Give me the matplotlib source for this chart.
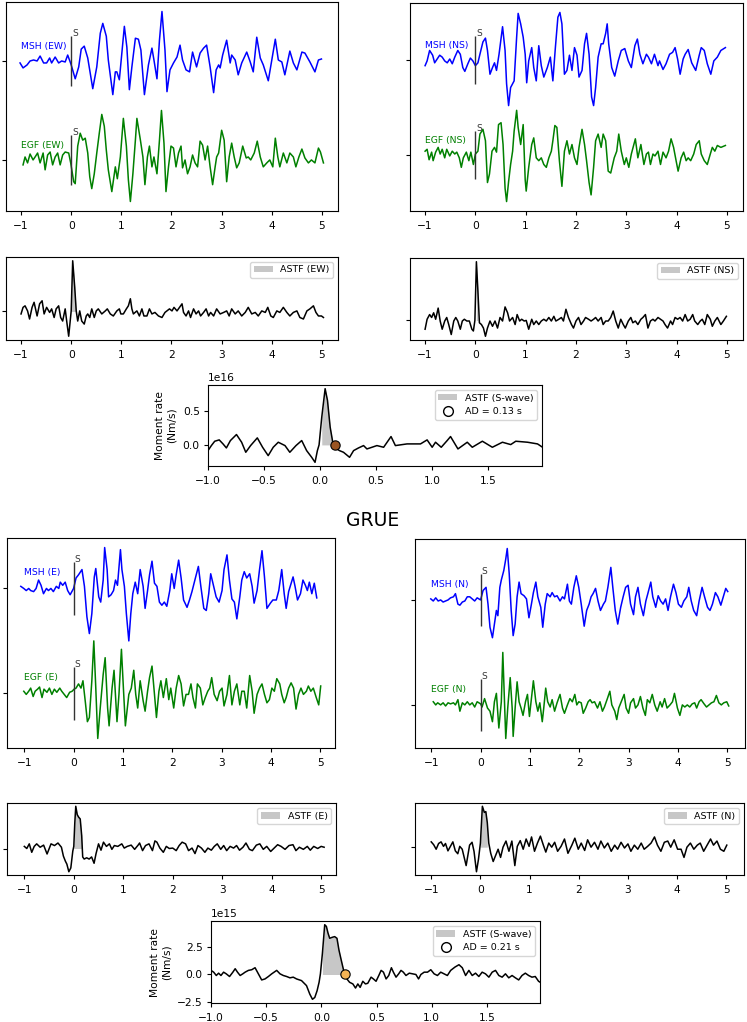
import numpy as np
import matplotlib
matplotlib.use('Agg')
import matplotlib.pyplot as plt
from matplotlib.lines import Line2D

# 波形数据 (时间 s, 归一化振幅)
msh_ew = np.array([
    (-1.02, -0.02), (-0.96, -0.07), (-0.88, -0.04), (-0.82, 0.0), (-0.75, 0.01), (-0.68, 0.0), (-0.62, 0.05),
    (-0.55, -0.02), (-0.49, -0.02), (-0.43, 0.03), (-0.39, -0.02), (-0.32, 0.04), (-0.25, -0.02), (-0.19, 0.0),
    (-0.12, -0.01), (-0.07, 0.06), (-0.02, -0.01), (0.0, -0.04), (0.08, -0.18), (0.15, -0.06), (0.20, 0.12),
    (0.26, 0.15), (0.33, 0.03), (0.43, -0.28), (0.51, -0.06), (0.58, 0.28), (0.63, 0.38), (0.70, 0.25),
    (0.74, 0.01), (0.83, -0.34), (0.88, -0.11), (0.91, -0.11), (0.96, -0.19), (1.06, 0.35), (1.11, 0.14),
    (1.16, -0.29), (1.21, -0.06), (1.28, 0.23), (1.34, 0.22), (1.39, 0.11), (1.46, -0.34), (1.54, -0.04),
    (1.61, 0.13), (1.65, 0.01), (1.71, -0.18), (1.76, 0.21), (1.81, 0.50), (1.87, 0.11), (1.91, -0.31),
    (1.97, -0.09), (2.04, -0.02), (2.11, 0.04), (2.17, 0.16), (2.22, 0.01), (2.29, -0.09), (2.36, -0.11),
    (2.42, 0.09), (2.50, -0.06), (2.57, 0.08), (2.64, 0.13), (2.70, 0.16), (2.77, -0.06), (2.84, -0.32),
    (2.89, -0.09), (2.94, -0.04), (2.97, -0.07), (3.02, 0.06), (3.10, 0.21), (3.17, -0.02), (3.20, 0.06),
    (3.27, 0.01), (3.33, -0.14), (3.40, -0.02), (3.50, 0.09), (3.57, -0.01), (3.63, -0.11), (3.70, 0.24),
    (3.77, 0.03), (3.83, -0.04), (3.93, -0.20), (4.00, 0.01), (4.07, 0.22), (4.13, 0.01), (4.20, -0.01),
    (4.26, -0.14), (4.36, 0.10), (4.43, -0.02), (4.50, -0.09), (4.60, 0.09), (4.66, 0.08), (4.76, -0.01),
    (4.86, -0.11), (4.93, 0.01), (4.99, 0.02)])

egf_ew = np.array([
    (-0.96, -0.05), (-0.92, 0.03), (-0.87, -0.03), (-0.82, 0.06), (-0.76, 0.0), (-0.72, 0.03), (-0.67, 0.07),
    (-0.62, -0.03), (-0.56, 0.07), (-0.52, -0.10), (-0.47, 0.05), (-0.42, 0.08), (-0.37, -0.05), (-0.32, 0.03),
    (-0.27, 0.07), (-0.22, -0.05), (-0.17, 0.05), (-0.12, 0.08), (-0.05, 0.07), (-0.01, -0.03), (0.05, -0.22),
    (0.08, -0.24), (0.13, 0.14), (0.18, 0.27), (0.23, 0.20), (0.28, 0.22), (0.33, 0.07), (0.37, -0.17),
    (0.41, -0.29), (0.46, -0.14), (0.51, 0.07), (0.56, 0.27), (0.61, 0.46), (0.66, 0.34), (0.70, 0.10),
    (0.74, -0.10), (0.81, -0.32), (0.88, -0.07), (0.92, -0.19), (0.98, 0.03), (1.04, 0.42), (1.10, 0.14),
    (1.14, -0.20), (1.18, -0.42), (1.23, -0.14), (1.28, 0.20), (1.31, 0.42), (1.38, 0.20), (1.43, 0.03),
    (1.47, -0.25), (1.52, 0.03), (1.56, 0.14), (1.61, -0.07), (1.65, 0.03), (1.71, -0.14), (1.76, 0.20),
    (1.80, 0.50), (1.85, 0.17), (1.89, -0.32), (1.94, -0.07), (1.99, 0.14), (2.04, 0.12), (2.09, -0.07),
    (2.14, 0.07), (2.19, 0.14), (2.22, -0.08), (2.27, 0.0), (2.32, -0.14), (2.37, -0.07), (2.42, 0.05),
    (2.47, -0.03), (2.52, -0.07), (2.57, 0.19), (2.62, 0.15), (2.67, 0.0), (2.72, 0.14), (2.77, -0.07),
    (2.82, -0.25), (2.87, -0.07), (2.90, 0.03), (2.94, 0.07), (3.00, 0.30), (3.05, 0.20), (3.10, -0.22),
    (3.15, 0.03), (3.20, 0.17), (3.25, 0.03), (3.30, -0.08), (3.35, -0.03), (3.42, 0.14), (3.49, 0.02),
    (3.53, 0.03), (3.58, 0.0), (3.65, 0.07), (3.71, 0.19), (3.77, 0.03), (3.83, -0.07), (3.90, -0.03),
    (3.96, 0.0), (4.02, -0.07), (4.07, 0.22), (4.12, 0.03), (4.16, -0.07), (4.23, 0.07), (4.30, -0.03),
    (4.36, 0.07), (4.43, 0.03), (4.48, -0.07), (4.54, 0.03), (4.60, 0.11), (4.66, 0.02), (4.73, -0.03),
    (4.79, 0.0), (4.86, -0.03), (4.93, 0.12), (4.97, 0.08), (5.03, -0.03)])

msh_ns = np.array([
    (-1.00, -0.06), (-0.96, -0.01), (-0.91, 0.10), (-0.85, 0.05), (-0.81, -0.03), (-0.76, 0.01), (-0.71, 0.05),
    (-0.66, 0.03), (-0.61, -0.01), (-0.56, -0.03), (-0.51, 0.01), (-0.46, -0.04), (-0.41, 0.03), (-0.35, 0.10),
    (-0.30, 0.06), (-0.25, -0.08), (-0.21, -0.12), (-0.15, -0.04), (-0.10, 0.02), (-0.05, -0.01), (0.0, -0.06),
    (0.05, -0.03), (0.09, 0.06), (0.15, 0.19), (0.20, 0.23), (0.24, 0.10), (0.29, -0.15), (0.34, -0.08),
    (0.38, -0.03), (0.42, -0.11), (0.47, 0.06), (0.54, 0.35), (0.59, 0.10), (0.62, -0.25), (0.66, -0.48),
    (0.70, -0.29), (0.77, -0.22), (0.82, 0.24), (0.85, 0.49), (0.90, 0.38), (0.95, 0.24), (0.99, 0.06),
    (1.02, -0.24), (1.06, -0.01), (1.12, 0.13), (1.16, -0.08), (1.21, -0.22), (1.26, 0.15), (1.31, -0.06),
    (1.36, -0.18), (1.43, -0.08), (1.49, 0.03), (1.54, -0.22), (1.59, 0.13), (1.64, 0.45), (1.68, 0.50),
    (1.72, 0.38), (1.77, -0.15), (1.82, -0.11), (1.87, 0.05), (1.92, -0.11), (1.97, 0.13), (2.02, 0.05),
    (2.06, -0.18), (2.12, -0.11), (2.17, 0.17), (2.21, 0.28), (2.26, 0.06), (2.31, -0.39), (2.35, -0.48),
    (2.39, -0.29), (2.44, 0.03), (2.50, 0.17), (2.54, 0.17), (2.59, 0.28), (2.62, 0.38), (2.65, 0.17),
    (2.71, -0.08), (2.77, -0.17), (2.84, -0.01), (2.90, 0.10), (2.97, 0.12), (3.04, -0.01), (3.10, -0.08),
    (3.17, 0.15), (3.22, 0.22), (3.27, 0.06), (3.33, -0.04), (3.40, 0.06), (3.44, 0.03), (3.50, -0.04),
    (3.56, 0.06), (3.63, -0.06), (3.66, -0.01), (3.73, -0.10), (3.79, -0.04), (3.86, 0.06), (3.92, 0.08),
    (3.97, 0.13), (4.02, 0.01), (4.07, -0.15), (4.13, 0.01), (4.17, 0.06), (4.23, 0.11), (4.30, -0.03),
    (4.38, -0.11), (4.45, 0.05), (4.49, 0.13), (4.55, 0.10), (4.61, -0.04), (4.68, -0.15), (4.74, -0.01),
    (4.81, 0.03), (4.88, 0.10), (4.97, 0.13)])

egf_ns = np.array([
    (-1.00, 0.04), (-0.96, 0.06), (-0.92, -0.05), (-0.87, 0.03), (-0.84, -0.06), (-0.79, 0.03), (-0.74, 0.08),
    (-0.70, 0.01), (-0.66, 0.06), (-0.61, -0.03), (-0.57, 0.06), (-0.51, -0.01), (-0.46, 0.04), (-0.41, 0.01),
    (-0.37, 0.03), (-0.32, -0.03), (-0.28, -0.13), (-0.24, -0.03), (-0.18, 0.03), (-0.13, -0.06), (-0.09, 0.03),
    (-0.04, -0.10), (0.0, 0.01), (0.05, 0.04), (0.09, 0.22), (0.15, 0.27), (0.20, 0.15), (0.24, -0.29),
    (0.28, -0.20), (0.33, 0.04), (0.38, 0.08), (0.42, 0.03), (0.46, 0.32), (0.51, 0.34), (0.55, 0.11),
    (0.59, -0.35), (0.62, -0.49), (0.66, -0.28), (0.70, -0.10), (0.74, 0.04), (0.77, 0.25), (0.82, 0.47),
    (0.85, 0.29), (0.90, 0.11), (0.95, 0.32), (0.99, -0.26), (1.01, -0.38), (1.06, -0.13), (1.12, 0.11),
    (1.16, 0.18), (1.21, -0.03), (1.26, -0.06), (1.31, -0.03), (1.36, -0.10), (1.41, -0.13), (1.46, -0.03),
    (1.51, 0.04), (1.54, 0.15), (1.58, 0.31), (1.62, 0.29), (1.67, -0.06), (1.72, -0.33), (1.77, 0.04),
    (1.82, 0.15), (1.87, 0.01), (1.92, 0.11), (1.97, -0.03), (2.02, -0.10), (2.06, 0.08), (2.12, 0.27),
    (2.17, 0.11), (2.21, -0.06), (2.26, -0.29), (2.30, -0.42), (2.35, -0.13), (2.39, 0.15), (2.44, 0.22),
    (2.50, 0.08), (2.54, 0.22), (2.59, 0.15), (2.64, -0.17), (2.69, -0.19), (2.76, -0.03), (2.81, 0.04),
    (2.85, 0.22), (2.90, 0.04), (2.96, -0.10), (3.00, -0.03), (3.05, -0.13), (3.10, 0.01), (3.18, 0.17),
    (3.23, -0.03), (3.29, 0.11), (3.35, -0.10), (3.40, 0.01), (3.44, 0.03), (3.48, -0.10), (3.53, 0.01),
    (3.57, -0.01), (3.63, 0.04), (3.68, -0.10), (3.73, 0.03), (3.79, -0.03), (3.84, 0.04), (3.89, 0.17),
    (3.94, 0.08), (3.99, -0.06), (4.03, -0.17), (4.09, -0.03), (4.14, 0.03), (4.19, -0.06), (4.23, -0.03),
    (4.28, -0.06), (4.34, 0.01), (4.39, 0.11), (4.45, 0.15), (4.49, 0.01), (4.55, -0.06), (4.61, -0.10),
    (4.67, 0.01), (4.71, 0.08), (4.76, 0.04), (4.81, 0.10), (4.88, 0.08), (4.97, 0.10)])

# 视震源时间函数 (ASTF, 峰值归一化)
astf_ew = np.array([
    (-1.00, -0.05), (-0.96, 0.08), (-0.92, 0.11), (-0.87, 0.01), (-0.83, -0.15), (-0.78, 0.08), (-0.74, 0.18),
    (-0.68, -0.09), (-0.63, 0.15), (-0.58, 0.21), (-0.54, -0.05), (-0.49, 0.08), (-0.43, -0.02), (-0.39, 0.05),
    (-0.34, -0.12), (-0.30, 0.05), (-0.25, 0.11), (-0.21, -0.12), (-0.17, -0.19), (-0.12, 0.05), (-0.09, -0.19),
    (-0.05, -0.49), (-0.02, -0.19), (0.0, 0.01), (0.03, 1.0), (0.07, 0.48), (0.10, 0.01), (0.13, -0.19),
    (0.17, 0.01), (0.21, -0.19), (0.26, -0.25), (0.30, -0.09), (0.33, -0.05), (0.37, -0.12), (0.41, 0.05),
    (0.46, -0.12), (0.50, 0.01), (0.54, 0.05), (0.61, -0.05), (0.68, 0.01), (0.72, 0.05), (0.78, -0.05),
    (0.84, -0.09), (0.91, 0.01), (0.96, 0.05), (0.99, -0.05), (1.04, -0.05), (1.10, 0.05), (1.14, 0.11),
    (1.18, 0.25), (1.21, 0.05), (1.24, -0.05), (1.31, 0.01), (1.36, -0.09), (1.41, 0.05), (1.45, -0.09),
    (1.51, -0.09), (1.56, 0.05), (1.61, -0.05), (1.67, -0.02), (1.74, -0.09), (1.81, -0.12), (1.87, -0.02),
    (1.96, 0.05), (2.01, 0.01), (2.05, 0.08), (2.11, 0.01), (2.16, 0.08), (2.21, 0.15), (2.24, -0.02),
    (2.29, -0.09), (2.34, 0.01), (2.38, -0.12), (2.44, 0.05), (2.49, -0.05), (2.54, 0.01), (2.58, -0.09),
    (2.64, -0.02), (2.69, 0.05), (2.74, -0.09), (2.78, -0.02), (2.84, -0.09), (2.90, 0.05), (2.97, -0.05),
    (3.04, -0.02), (3.10, 0.01), (3.15, -0.09), (3.20, 0.05), (3.27, -0.05), (3.33, 0.01), (3.40, -0.09),
    (3.47, -0.02), (3.53, 0.08), (3.60, -0.05), (3.67, -0.02), (3.73, -0.09), (3.80, 0.01), (3.87, -0.02),
    (3.92, 0.08), (3.98, -0.09), (4.03, -0.12), (4.10, 0.01), (4.16, -0.02), (4.23, 0.08), (4.30, -0.02),
    (4.36, -0.09), (4.43, -0.02), (4.50, 0.01), (4.56, -0.12), (4.63, -0.15), (4.70, 0.01), (4.76, 0.05),
    (4.83, 0.11), (4.88, -0.02), (4.93, -0.09), (4.99, -0.09), (5.03, -0.12)])

astf_ns = np.array([
    (-1.00, -0.15), (-0.96, 0.02), (-0.91, 0.10), (-0.87, 0.05), (-0.83, 0.13), (-0.79, 0.02), (-0.74, 0.21),
    (-0.70, -0.01), (-0.66, -0.15), (-0.61, -0.01), (-0.57, 0.05), (-0.53, -0.07), (-0.48, -0.24), (-0.43, -0.01),
    (-0.39, 0.05), (-0.35, -0.01), (-0.30, -0.15), (-0.26, -0.01), (-0.22, 0.02), (-0.17, -0.01), (-0.12, -0.01),
    (-0.07, -0.15), (-0.04, -0.18), (-0.01, 0.0), (0.02, 1.0), (0.05, 0.5), (0.08, -0.04), (0.12, -0.07),
    (0.16, -0.13), (0.20, -0.27), (0.24, -0.13), (0.29, -0.01), (0.34, -0.10), (0.39, -0.01), (0.44, -0.13),
    (0.49, 0.05), (0.54, -0.01), (0.59, 0.23), (0.64, 0.13), (0.68, -0.01), (0.74, 0.05), (0.79, -0.07),
    (0.83, 0.10), (0.88, -0.01), (0.92, 0.02), (0.97, -0.01), (1.01, 0.0), (1.06, -0.15), (1.12, 0.02),
    (1.16, -0.07), (1.21, -0.01), (1.26, -0.07), (1.31, -0.01), (1.36, 0.02), (1.41, -0.01), (1.46, 0.05),
    (1.51, -0.01), (1.56, 0.07), (1.60, -0.01), (1.66, 0.02), (1.71, 0.05), (1.75, -0.01), (1.80, 0.19),
    (1.85, 0.05), (1.91, -0.07), (1.95, -0.13), (2.00, -0.01), (2.05, 0.05), (2.10, -0.07), (2.15, -0.01),
    (2.19, 0.05), (2.25, 0.02), (2.30, -0.01), (2.35, 0.02), (2.39, 0.05), (2.44, -0.01), (2.50, 0.05),
    (2.54, -0.07), (2.59, -0.01), (2.64, -0.01), (2.69, 0.05), (2.74, 0.16), (2.79, -0.01), (2.84, -0.13),
    (2.89, 0.02), (2.94, -0.07), (2.98, -0.13), (3.04, -0.01), (3.09, 0.05), (3.13, -0.04), (3.18, -0.01),
    (3.23, -0.07), (3.29, 0.02), (3.33, 0.05), (3.38, 0.10), (3.43, -0.13), (3.48, -0.01), (3.53, 0.02),
    (3.57, -0.01), (3.63, 0.05), (3.68, 0.02), (3.73, -0.01), (3.77, -0.07), (3.82, -0.13), (3.88, -0.01),
    (3.92, -0.07), (3.97, 0.05), (4.02, 0.02), (4.07, 0.05), (4.12, -0.01), (4.17, 0.10), (4.22, -0.01),
    (4.27, 0.02), (4.32, 0.10), (4.36, -0.01), (4.42, -0.07), (4.47, -0.01), (4.51, 0.02), (4.56, -0.07),
    (4.61, 0.10), (4.67, 0.02), (4.71, -0.10), (4.76, -0.01), (4.81, 0.05), (4.88, -0.07), (4.93, -0.01),
    (4.99, 0.07)])

# 矩率函数 (单位 1e16 Nm/s)
mr_top = np.array([
    (-1.0, -0.085), (-0.97, -0.01), (-0.94, 0.055), (-0.90, 0.075), (-0.866, 0.015), (-0.836, -0.045),
    (-0.80, 0.065), (-0.746, 0.155), (-0.70, 0.04), (-0.663, -0.11), (-0.62, -0.01), (-0.56, 0.105),
    (-0.513, -0.035), (-0.463, -0.16), (-0.418, -0.035), (-0.373, 0.04), (-0.313, -0.01), (-0.27, -0.11),
    (-0.215, -0.01), (-0.164, 0.065), (-0.12, -0.085), (-0.075, -0.185), (-0.045, -0.26), (-0.024, -0.085),
    (-0.009, 0.0), (0.015, 0.415), (0.045, 0.84), (0.066, 0.665), (0.09, 0.265), (0.113, 0.04), (0.13, 0.0),
    (0.149, -0.06), (0.173, -0.085), (0.209, -0.11), (0.263, -0.185), (0.299, -0.085), (0.343, -0.045),
    (0.388, -0.01), (0.418, -0.06), (0.463, -0.035), (0.507, -0.01), (0.567, -0.035), (0.633, 0.125),
    (0.672, -0.01), (0.776, 0.015), (0.896, 0.015), (0.955, 0.075), (1.0, -0.035), (1.03, 0.04),
    (1.081, -0.035), (1.134, 0.065), (1.164, 0.125), (1.23, -0.06), (1.313, 0.04), (1.358, -0.035),
    (1.448, 0.055), (1.537, -0.035), (1.627, 0.04), (1.701, 0.005), (1.746, 0.055), (1.851, 0.04),
    (1.94, 0.015), (1.985, -0.035)])

msh_e = np.array([
    (-1.07, 0.02), (-1.01, 0.0), (-0.96, -0.02), (-0.91, 0.0), (-0.87, -0.02), (-0.81, -0.03), (-0.76, 0.0),
    (-0.71, 0.08), (-0.66, 0.03), (-0.61, -0.05), (-0.55, 0.0), (-0.51, -0.02), (-0.46, 0.0), (-0.41, -0.03),
    (-0.35, 0.02), (-0.30, 0.0), (-0.27, 0.06), (-0.22, 0.03), (-0.17, 0.06), (-0.12, -0.02), (-0.07, -0.06),
    (0.0, 0.0), (0.05, 0.10), (0.10, 0.13), (0.17, 0.18), (0.22, 0.02), (0.27, -0.27), (0.32, -0.43),
    (0.37, -0.24), (0.42, 0.11), (0.45, 0.19), (0.51, -0.08), (0.55, -0.13), (0.60, 0.08), (0.63, 0.39),
    (0.68, 0.18), (0.71, -0.08), (0.76, -0.06), (0.81, -0.02), (0.85, 0.08), (0.89, 0.03), (0.95, 0.37),
    (0.98, 0.18), (1.03, 0.02), (1.07, -0.24), (1.12, -0.50), (1.16, -0.24), (1.20, -0.05), (1.25, 0.06),
    (1.30, -0.05), (1.35, 0.18), (1.41, 0.02), (1.45, -0.19), (1.50, -0.02), (1.54, 0.13), (1.59, 0.26),
    (1.64, 0.05), (1.69, 0.02), (1.74, -0.13), (1.79, -0.16), (1.84, -0.13), (1.89, -0.17), (1.95, -0.02),
    (1.99, 0.14), (2.04, 0.0), (2.08, 0.13), (2.13, 0.27), (2.18, 0.10), (2.23, -0.11), (2.30, -0.18),
    (2.35, -0.11), (2.40, -0.03), (2.47, 0.10), (2.53, 0.21), (2.58, 0.02), (2.64, -0.19), (2.69, -0.21),
    (2.74, -0.05), (2.78, 0.14), (2.84, 0.02), (2.89, -0.08), (2.95, -0.13), (3.01, -0.02), (3.05, 0.18),
    (3.11, 0.32), (3.16, 0.08), (3.21, -0.10), (3.26, -0.13), (3.31, -0.29), (3.37, -0.08), (3.41, 0.08),
    (3.46, 0.16), (3.51, 0.10), (3.57, 0.14), (3.62, 0.02), (3.66, -0.14), (3.72, -0.02), (3.77, 0.18),
    (3.82, 0.36), (3.87, 0.11), (3.92, -0.19), (3.99, -0.14), (4.04, -0.11), (4.11, -0.11), (4.16, -0.02),
    (4.22, 0.18), (4.27, -0.05), (4.31, -0.19), (4.36, -0.03), (4.45, 0.11), (4.49, 0.02), (4.54, -0.11),
    (4.60, -0.05), (4.65, 0.08), (4.70, 0.03), (4.74, -0.02), (4.78, 0.06), (4.83, -0.05), (4.88, 0.05),
    (4.93, -0.09)])

egf_e = np.array([
    (-1.01, 0.02), (-0.96, -0.01), (-0.91, 0.02), (-0.87, 0.05), (-0.82, -0.03), (-0.78, 0.02), (-0.73, 0.04),
    (-0.69, 0.06), (-0.64, -0.04), (-0.60, 0.04), (-0.54, 0.01), (-0.49, 0.05), (-0.44, -0.01), (-0.39, 0.04),
    (-0.34, 0.01), (-0.28, 0.05), (-0.24, 0.02), (-0.19, -0.01), (-0.14, -0.04), (-0.08, 0.01), (-0.03, 0.02),
    (0.01, 0.04), (0.05, 0.05), (0.10, 0.09), (0.15, 0.05), (0.19, 0.12), (0.24, -0.09), (0.28, -0.27),
    (0.32, -0.23), (0.37, 0.12), (0.41, 0.50), (0.45, 0.05), (0.49, -0.43), (0.54, -0.14), (0.60, 0.18),
    (0.64, 0.34), (0.69, -0.14), (0.72, -0.31), (0.78, 0.05), (0.82, 0.22), (0.88, -0.27), (0.92, -0.01),
    (0.97, 0.42), (1.01, 0.05), (1.05, -0.31), (1.12, -0.01), (1.17, 0.05), (1.22, 0.22), (1.26, -0.01),
    (1.30, -0.14), (1.35, 0.12), (1.41, -0.07), (1.45, -0.17), (1.50, 0.02), (1.54, 0.15), (1.59, 0.26),
    (1.64, -0.01), (1.68, -0.23), (1.73, 0.02), (1.77, 0.12), (1.82, -0.04), (1.88, 0.14), (1.93, -0.06),
    (1.97, 0.05), (2.03, -0.14), (2.08, 0.05), (2.13, 0.17), (2.18, 0.09), (2.23, -0.12), (2.28, -0.01),
    (2.33, -0.01), (2.38, 0.09), (2.42, -0.04), (2.47, -0.14), (2.51, 0.09), (2.57, 0.05), (2.62, -0.11),
    (2.67, -0.04), (2.72, 0.02), (2.76, 0.05), (2.80, 0.15), (2.85, -0.01), (2.91, -0.07), (2.96, 0.02),
    (3.01, 0.05), (3.05, -0.12), (3.11, -0.01), (3.16, 0.17), (3.21, -0.11), (3.26, 0.02), (3.31, 0.09),
    (3.37, -0.11), (3.41, 0.02), (3.46, 0.02), (3.51, -0.14), (3.57, 0.17), (3.62, 0.02), (3.66, -0.19),
    (3.72, -0.01), (3.77, 0.05), (3.82, 0.09), (3.87, -0.01), (3.92, -0.09), (3.97, -0.06), (4.02, 0.05),
    (4.07, 0.02), (4.12, 0.14), (4.18, 0.09), (4.22, -0.01), (4.27, -0.09), (4.31, -0.04), (4.36, 0.05),
    (4.41, 0.10), (4.46, 0.05), (4.51, -0.15), (4.56, -0.01), (4.61, 0.05), (4.66, -0.01), (4.72, 0.02),
    (4.76, 0.07), (4.81, 0.02), (4.86, 0.05), (4.92, -0.04), (4.97, -0.11), (5.01, 0.07)])

msh_n = np.array([
    (-1.01, 0.01), (-0.96, -0.01), (-0.91, 0.02), (-0.86, -0.01), (-0.81, 0.0), (-0.76, -0.02), (-0.71, -0.01),
    (-0.66, 0.0), (-0.61, 0.02), (-0.55, 0.03), (-0.51, 0.06), (-0.46, -0.04), (-0.42, -0.05), (-0.37, -0.02),
    (-0.32, -0.01), (-0.27, 0.03), (-0.22, 0.03), (-0.17, 0.01), (-0.12, -0.01), (-0.07, 0.02), (0.0, 0.0),
    (0.05, 0.09), (0.11, 0.12), (0.15, -0.04), (0.19, -0.26), (0.24, -0.36), (0.28, -0.23), (0.32, -0.10),
    (0.35, -0.15), (0.39, 0.12), (0.42, 0.19), (0.47, 0.28), (0.51, 0.39), (0.54, 0.49), (0.58, 0.25),
    (0.62, -0.10), (0.66, -0.34), (0.70, -0.23), (0.74, 0.03), (0.78, 0.17), (0.82, 0.06), (0.88, 0.04),
    (0.93, 0.01), (0.98, -0.17), (1.03, -0.04), (1.07, 0.07), (1.12, 0.17), (1.16, 0.03), (1.22, -0.07),
    (1.26, -0.26), (1.31, -0.04), (1.35, 0.06), (1.41, 0.03), (1.45, 0.07), (1.50, 0.03), (1.55, 0.04),
    (1.61, -0.01), (1.66, 0.03), (1.70, 0.01), (1.76, 0.15), (1.80, -0.01), (1.84, -0.04), (1.89, 0.12),
    (1.94, 0.23), (1.99, 0.12), (2.04, -0.04), (2.10, -0.25), (2.15, -0.10), (2.20, -0.04), (2.24, 0.03),
    (2.28, 0.06), (2.33, 0.11), (2.38, -0.01), (2.43, -0.10), (2.49, -0.04), (2.53, -0.01), (2.58, 0.12),
    (2.64, 0.31), (2.68, 0.12), (2.73, -0.10), (2.78, -0.23), (2.84, -0.07), (2.89, 0.03), (2.94, 0.12),
    (2.99, 0.14), (3.04, -0.04), (3.10, -0.14), (3.14, 0.03), (3.19, 0.12), (3.24, -0.04), (3.30, -0.15),
    (3.35, -0.01), (3.39, 0.06), (3.45, 0.17), (3.49, 0.03), (3.55, -0.07), (3.60, 0.04), (3.65, -0.01),
    (3.70, -0.04), (3.75, 0.01), (3.80, -0.10), (3.85, 0.03), (3.91, 0.15), (3.96, 0.07), (4.01, -0.04),
    (4.07, -0.07), (4.12, -0.01), (4.18, 0.03), (4.22, 0.12), (4.27, -0.01), (4.32, -0.10), (4.38, -0.15),
    (4.43, -0.01), (4.49, 0.12), (4.54, 0.03), (4.60, -0.07), (4.65, -0.10), (4.70, -0.04), (4.76, 0.07),
    (4.81, 0.03), (4.87, -0.05), (4.92, 0.03), (4.97, 0.11), (5.01, 0.08)])

egf_n = np.array([
    (-0.96, 0.03), (-0.91, 0.0), (-0.87, 0.02), (-0.81, 0.0), (-0.76, 0.02), (-0.71, -0.01), (-0.66, 0.02),
    (-0.61, 0.01), (-0.55, 0.02), (-0.51, 0.0), (-0.46, 0.05), (-0.42, -0.06), (-0.37, 0.02), (-0.32, 0.0),
    (-0.27, 0.03), (-0.22, 0.0), (-0.17, 0.02), (-0.12, -0.02), (-0.07, 0.03), (0.0, 0.01), (0.03, -0.02),
    (0.08, 0.06), (0.14, -0.03), (0.19, -0.06), (0.24, -0.16), (0.28, 0.03), (0.32, 0.11), (0.37, -0.22),
    (0.42, 0.03), (0.45, 0.50), (0.47, 0.22), (0.51, -0.32), (0.55, -0.03), (0.60, 0.26), (0.64, -0.03),
    (0.66, -0.30), (0.70, -0.03), (0.74, 0.22), (0.78, 0.03), (0.82, -0.03), (0.86, -0.10), (0.91, 0.03),
    (0.95, 0.10), (0.99, -0.11), (1.03, 0.06), (1.07, 0.23), (1.12, 0.03), (1.16, -0.06), (1.20, 0.02),
    (1.25, -0.16), (1.28, -0.03), (1.32, 0.16), (1.36, 0.03), (1.41, -0.02), (1.45, 0.05), (1.50, -0.06),
    (1.55, 0.02), (1.61, 0.10), (1.66, -0.03), (1.70, -0.08), (1.76, 0.0), (1.81, 0.06), (1.86, 0.03),
    (1.91, 0.10), (1.95, 0.0), (1.99, 0.03), (2.04, 0.02), (2.08, -0.08), (2.13, -0.03), (2.18, 0.03),
    (2.22, 0.05), (2.26, 0.02), (2.31, 0.03), (2.37, -0.03), (2.42, 0.03), (2.47, -0.06), (2.51, -0.02),
    (2.57, 0.06), (2.62, 0.13), (2.66, 0.0), (2.72, -0.06), (2.76, -0.14), (2.80, -0.03), (2.85, 0.03),
    (2.91, 0.10), (2.95, -0.03), (3.00, -0.08), (3.04, 0.02), (3.10, 0.06), (3.14, -0.03), (3.19, 0.0),
    (3.24, 0.08), (3.29, -0.03), (3.34, -0.10), (3.38, 0.05), (3.43, 0.02), (3.48, 0.10), (3.53, 0.0),
    (3.58, -0.06), (3.64, 0.03), (3.68, -0.02), (3.73, 0.06), (3.78, -0.03), (3.84, 0.0), (3.89, 0.03),
    (3.93, 0.11), (3.99, -0.03), (4.04, -0.10), (4.09, 0.0), (4.14, -0.02), (4.19, 0.0), (4.24, -0.02),
    (4.29, 0.01), (4.34, 0.02), (4.38, -0.03), (4.43, 0.03), (4.47, 0.05), (4.53, 0.01), (4.58, -0.02),
    (4.63, 0.0), (4.68, 0.02), (4.73, 0.03), (4.78, 0.09), (4.83, 0.02), (4.88, 0.0), (4.93, 0.02),
    (4.99, 0.03), (5.03, -0.01)])

astf_e = np.array([
    (-1.00, 0.05), (-0.95, 0.0), (-0.90, 0.11), (-0.85, -0.09), (-0.80, 0.05), (-0.75, 0.11), (-0.68, 0.03),
    (-0.61, 0.08), (-0.54, -0.13), (-0.46, 0.11), (-0.39, 0.07), (-0.32, 0.13), (-0.25, 0.03), (-0.21, -0.18),
    (-0.17, -0.30), (-0.14, -0.37), (-0.10, -0.55), (-0.06, -0.46), (-0.02, -0.06), (0.0, 0.05), (0.02, 0.6),
    (0.04, 1.0), (0.07, 0.8), (0.10, 0.74), (0.13, 0.70), (0.16, 0.30), (0.18, -0.20), (0.21, -0.25),
    (0.26, -0.22), (0.31, -0.25), (0.36, -0.20), (0.41, -0.35), (0.45, -0.12), (0.50, 0.11), (0.55, -0.04),
    (0.60, 0.15), (0.66, 0.05), (0.72, 0.11), (0.77, -0.02), (0.82, 0.07), (0.89, 0.05), (0.97, 0.11),
    (1.02, 0.01), (1.08, 0.05), (1.16, 0.08), (1.23, -0.02), (1.30, 0.08), (1.33, 0.13), (1.39, -0.05),
    (1.45, 0.07), (1.52, 0.11), (1.59, -0.05), (1.64, 0.18), (1.68, 0.15), (1.74, 0.01), (1.81, -0.09),
    (1.87, 0.05), (1.93, 0.0), (2.00, 0.01), (2.07, -0.05), (2.13, 0.07), (2.19, 0.15), (2.26, 0.11),
    (2.32, -0.05), (2.39, 0.01), (2.45, -0.12), (2.51, 0.07), (2.58, 0.01), (2.65, -0.09), (2.71, 0.01),
    (2.78, -0.04), (2.84, 0.05), (2.90, 0.11), (2.97, -0.02), (3.03, 0.07), (3.09, -0.05), (3.16, 0.05),
    (3.23, 0.01), (3.29, 0.07), (3.35, -0.04), (3.42, 0.03), (3.48, 0.13), (3.55, -0.02), (3.61, -0.05),
    (3.69, 0.08), (3.76, 0.11), (3.83, -0.02), (3.90, 0.05), (3.98, -0.07), (4.05, 0.01), (4.12, 0.09),
    (4.19, 0.05), (4.27, -0.02), (4.35, 0.07), (4.43, 0.09), (4.49, -0.05), (4.56, 0.03), (4.64, -0.02),
    (4.72, 0.05), (4.78, -0.04), (4.85, 0.05), (4.93, 0.0), (5.00, 0.05), (5.06, 0.03)])

astf_n = np.array([
    (-1.00, 0.13), (-0.95, 0.06), (-0.90, -0.05), (-0.85, 0.09), (-0.80, 0.13), (-0.75, 0.02), (-0.71, 0.09),
    (-0.66, -0.09), (-0.61, 0.02), (-0.56, 0.13), (-0.51, -0.09), (-0.46, -0.16), (-0.42, 0.02), (-0.37, -0.05),
    (-0.29, -0.45), (-0.22, 0.05), (-0.17, 0.12), (-0.13, -0.10), (-0.08, -0.60), (-0.04, -0.30), (0.0, 0.10),
    (0.04, 1.0), (0.08, 0.85), (0.11, 0.87), (0.14, 0.60), (0.17, 0.10), (0.21, -0.15), (0.26, -0.35),
    (0.31, -0.20), (0.36, -0.05), (0.41, -0.25), (0.46, 0.0), (0.52, 0.15), (0.58, -0.10), (0.64, 0.15),
    (0.70, -0.45), (0.75, 0.02), (0.81, 0.16), (0.87, -0.05), (0.93, 0.20), (0.99, 0.02), (1.04, 0.25),
    (1.10, -0.10), (1.16, 0.10), (1.22, 0.27), (1.28, 0.05), (1.33, -0.12), (1.39, 0.10), (1.45, 0.0),
    (1.51, 0.12), (1.57, -0.10), (1.64, 0.02), (1.71, 0.20), (1.78, -0.15), (1.86, 0.05), (1.92, 0.22),
    (1.99, -0.05), (2.05, 0.10), (2.12, -0.08), (2.18, 0.18), (2.25, 0.0), (2.32, 0.12), (2.39, -0.05),
    (2.45, 0.15), (2.52, -0.02), (2.59, 0.10), (2.66, -0.10), (2.73, 0.05), (2.79, -0.05), (2.86, 0.12),
    (2.93, -0.02), (3.00, 0.08), (3.06, -0.10), (3.13, 0.05), (3.20, -0.05), (3.27, 0.10), (3.33, -0.05),
    (3.40, 0.02), (3.47, 0.10), (3.54, 0.25), (3.60, 0.05), (3.67, -0.10), (3.74, 0.12), (3.81, 0.15),
    (3.87, 0.0), (3.94, 0.18), (4.01, -0.05), (4.08, -0.05), (4.14, -0.25), (4.20, 0.0), (4.27, 0.10),
    (4.34, -0.05), (4.41, 0.05), (4.47, 0.10), (4.54, -0.10), (4.61, 0.05), (4.68, 0.20), (4.74, 0.05),
    (4.81, 0.15), (4.88, -0.05), (4.95, -0.10), (5.01, 0.05)])

# 矩率函数 (单位 1e15 Nm/s)
mr_bottom = np.array([
    (-1.0, 0.37), (-0.976, 0.21), (-0.952, -0.09), (-0.931, 0.12), (-0.91, -0.09), (-0.886, 0.21),
    (-0.862, 0.06), (-0.832, -0.18), (-0.802, 0.21), (-0.781, 0.52), (-0.76, 0.21), (-0.736, -0.09),
    (-0.712, 0.06), (-0.691, 0.21), (-0.661, 0.37), (-0.631, 0.43), (-0.601, 0.61), (-0.571, 0.06),
    (-0.541, -0.49), (-0.511, -0.40), (-0.48, -0.18), (-0.45, 0.06), (-0.405, 0.37), (-0.375, 0.06),
    (-0.345, -0.09), (-0.315, -0.18), (-0.285, -0.30), (-0.255, -0.24), (-0.225, -0.40), (-0.18, -0.55),
    (-0.135, -1.0), (-0.105, -1.77), (-0.081, -2.23), (-0.06, -2.07), (-0.039, -1.46), (-0.021, -0.70),
    (-0.009, 0.06), (0.009, 1.89), (0.03, 4.48), (0.045, 4.33), (0.06, 3.72), (0.075, 3.26), (0.099, 3.35),
    (0.12, 3.41), (0.141, 3.26), (0.159, 2.2), (0.18, 1.28), (0.21, 0.0), (0.231, -0.40), (0.255, -0.70),
    (0.285, -0.85), (0.309, -1.22), (0.33, -0.85), (0.351, -1.16), (0.375, -0.61), (0.399, -0.85),
    (0.42, -0.79), (0.45, -0.24), (0.471, -0.40), (0.495, -0.61), (0.52, -0.09), (0.541, 0.37),
    (0.562, 0.21), (0.586, -0.40), (0.61, -0.09), (0.634, 0.61), (0.652, 0.21), (0.676, -0.24),
    (0.70, 0.06), (0.721, 0.37), (0.742, 0.21), (0.766, -0.09), (0.796, 0.12), (0.826, 0.06),
    (0.856, 0.0), (0.88, -0.40), (0.901, 0.0), (0.931, 0.21), (0.961, 0.21), (0.991, 0.43),
    (1.021, 0.06), (1.051, -0.09), (1.081, 0.21), (1.111, 0.06), (1.141, -0.09), (1.171, 0.37),
    (1.21, 0.67), (1.246, 0.88), (1.276, 0.61), (1.306, -0.09), (1.336, 0.37), (1.366, -0.09),
    (1.396, 0.12), (1.426, -0.18), (1.456, 0.21), (1.486, 0.06), (1.517, -0.24), (1.547, 0.21),
    (1.577, 0.37), (1.607, -0.09), (1.637, -0.24), (1.667, 0.06), (1.697, -0.30), (1.727, -0.09),
    (1.757, -0.30), (1.787, -0.49), (1.817, -0.09), (1.847, 0.12), (1.877, -0.09), (1.907, -0.24),
    (1.937, -0.18), (1.967, -0.61), (1.997, -0.79)])

station = 'GRUE'
ad_top = 0.13
ad_bottom = 0.21

W, H = 747, 1022
plt.rcParams['font.size'] = 7.7
plt.rcParams['xtick.major.size'] = 3
plt.rcParams['ytick.major.size'] = 3
plt.rcParams['xtick.major.pad'] = 4.5
plt.rcParams['ytick.major.pad'] = 3
plt.rcParams['lines.solid_joinstyle'] = 'round'

fig = plt.figure(figsize=(W / 100, H / 100), dpi=100)


def px_axes(l, t, r, b):
    return fig.add_axes([l / W, 1 - b / H, (r - l) / W, (b - t) / H])


def plot_waves(ax, msh, egf, comp, xlim):
    for arr, off, col, name in [(msh, 1, 'blue', 'MSH'), (egf, 0, 'green', 'EGF')]:
        ax.plot(arr[:, 0], arr[:, 1] + off, color=col, lw=1.1)
        ax.vlines(0, off - 0.25, off + 0.25, color='0.2', lw=1)
        ax.text(0.02, off + 0.23, 'S', fontsize=6.5, color='0.2', ha='left', va='bottom')
        ax.text(-1.0, off + 0.15, f'{name} ({comp})', color=col, fontsize=6.7, ha='left', va='center')
    ax.set_xlim(*xlim)
    ax.set_yticks([0, 1])
    ax.set_yticklabels([])


def plot_astf(ax, astf, comp, dur, xlim):
    t, a = astf[:, 0], astf[:, 1]
    ax.fill_between(t, 0, a, where=(t >= 0) & (t <= dur), color='0.78', lw=0, label=f'ASTF ({comp})')
    ax.plot(t, a, color='k', lw=1.1)
    ax.set_xlim(*xlim)
    ax.set_yticks([0])
    ax.set_yticklabels([])
    ax.legend(loc='upper right', fontsize=6.8)


def plot_mr(ax, mr, scale, power, ad, mcol, yticks):
    t, v = mr[:, 0], mr[:, 1] * scale
    ax.fill_between(t, 0, v, where=(t >= 0) & (t <= ad), color='0.78', lw=0, label='ASTF (S-wave)')
    ax.plot(t, v, color='k', lw=1.1)
    ax.scatter([ad], [0], s=45, color=mcol, edgecolor='k', lw=0.8, zorder=3)
    h, l = ax.get_legend_handles_labels()
    h.append(Line2D([], [], marker='o', ls='none', mfc='none', mec='k', ms=7))
    l.append(f'AD = {ad:.2f} s')
    ax.legend(h, l, loc='upper right', fontsize=6.8)
    ax.set_xlim(-1, 1.98)
    ax.set_yticks(yticks)
    ax.ticklabel_format(axis='y', style='sci', scilimits=(power, power))
    ax.set_ylabel('Moment rate\n(Nm/s)')


# 上半部分
ax1 = px_axes(6, 2, 338, 211)
plot_waves(ax1, msh_ew, egf_ew, 'EW', (-1.3, 5.32))
ax2 = px_axes(410, 3, 743, 211)
plot_waves(ax2, msh_ns, egf_ns, 'NS', (-1.3, 5.32))
ax3 = px_axes(6, 257, 338, 340)
plot_astf(ax3, astf_ew, 'EW', 0.1, (-1.3, 5.32))
ax4 = px_axes(410, 258, 743, 340)
plot_astf(ax4, astf_ns, 'NS', 0.06, (-1.3, 5.32))
ax5 = px_axes(208, 385, 542, 466)
plot_mr(ax5, mr_top, 1e16, 16, ad_top, '#9a5422', [0, 0.5e16])

fig.text(373 / W, 1 - 520 / H, station, ha='center', va='center', fontsize=13.5)

# 下半部分 (GRUE)
ax6 = px_axes(7, 538, 335, 748)
plot_waves(ax6, msh_e, egf_e, 'E', (-1.35, 5.3))
ax7 = px_axes(415, 539, 745, 748)
plot_waves(ax7, msh_n, egf_n, 'N', (-1.33, 5.36))
ax8 = px_axes(7, 803, 336, 875)
plot_astf(ax8, astf_e, 'E', 0.17, (-1.35, 5.3))
ax9 = px_axes(415, 803, 744, 875)
plot_astf(ax9, astf_n, 'N', 0.15, (-1.33, 5.36))
ax10 = px_axes(211, 921, 540, 1003)
plot_mr(ax10, mr_bottom, 1e15, 15, ad_bottom, '#f5b455', [-2.5e15, 0, 2.5e15])

fig.savefig('out.png', dpi=100)
